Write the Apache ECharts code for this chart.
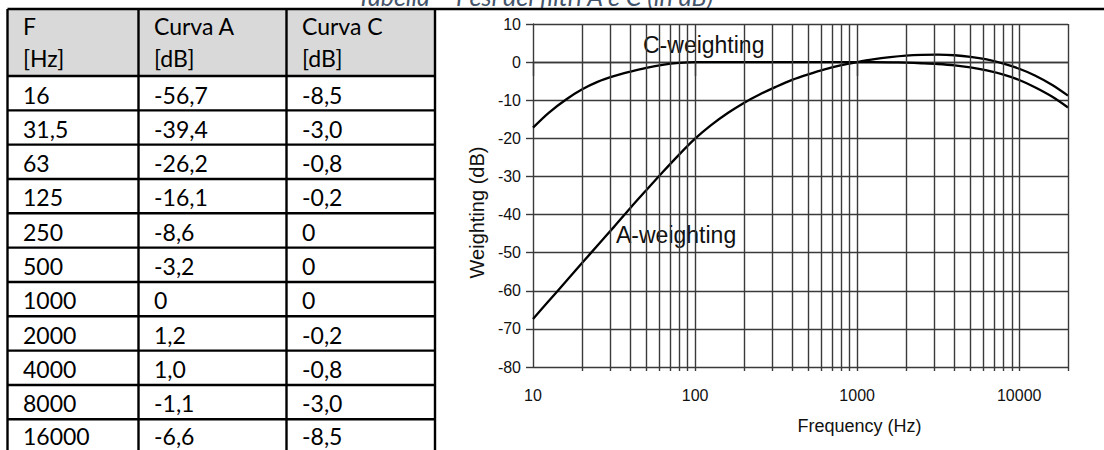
<!DOCTYPE html>
<html><head><meta charset="utf-8">
<script src="https://cdn.jsdelivr.net/npm/echarts@6/dist/echarts.min.js"></script>
<style>html,body{margin:0;padding:0;background:#fff}#c{width:1104px;height:450px}</style>
</head><body><div id="c"></div>
<script>
// ---- table data (as printed) ----
const tableHeader = [['F', '[Hz]'], ['Curva A', '[dB]'], ['Curva C', '[dB]']];
const tableFreqLabels = ['16', '31,5', '63', '125', '250', '500', '1000', '2000', '4000', '8000', '16000'];
const tableCurveA = ['-56,7', '-39,4', '-26,2', '-16,1', '-8,6', '-3,2', '0', '1,2', '1,0', '-1,1', '-6,6'];
const tableCurveC = ['-8,5', '-3,0', '-0,8', '-0,2', '0', '0', '0', '-0,2', '-0,8', '-3,0', '-8,5'];
const caption = 'Tabella – Pesi dei filtri A e C (in dB)';

// ---- chart data ----
const curveFreq = [10, 12.5, 16, 20, 25, 31.5, 40, 50, 63, 80, 100, 125, 160, 200, 250, 315, 400, 500, 630, 800,
  1000, 1250, 1600, 2000, 2500, 3150, 4000, 5000, 6300, 8000, 10000, 12500, 16000, 20000];
const curveA = [-67.4, -62.7, -57.5, -52.8, -48.1, -43.3, -38.2, -33.6, -28.9, -24.2, -20.1, -16.6, -13.3, -10.7, -8.5, -6.5, -4.6, -3.2, -1.9, -0.8,
  0, 0.7, 1.3, 1.7, 1.9, 1.95, 1.8, 1.4, 0.7, -0.4, -1.75, -3.5, -6.0, -8.8];
const curveC = [-17.2, -13.3, -9.8, -7.2, -5.2, -3.7, -2.5, -1.5, -0.7, -0.2, 0, 0, 0, 0, 0, 0, 0, 0, 0, 0,
  0, 0, -0.05, -0.15, -0.3, -0.5, -0.85, -1.4, -2.2, -3.3, -4.7, -6.6, -9.1, -11.9];
const majorFreqs = [10, 100, 1000, 10000];
const gridFreqs = [20, 30, 40, 50, 60, 70, 80, 90, 100, 200, 300, 400, 500, 600, 700, 800, 900, 1000,
  2000, 3000, 4000, 5000, 6000, 7000, 8000, 9000, 10000, 20000];
const yMin = -80, yMax = 10, yStep = 10;
const labelC = 'C-weighting', labelA = 'A-weighting';
const xName = 'Frequency (Hz)', yName = 'Weighting (dB)';

// ---- layout ----
const colX = [7.5, 138.5, 286.5, 435];
const tableTop = 9, headTop = 9, headBottom = 76, rowH = 34.33;
const tFont = '23px Lato';
const g = [];
g.push({ type: 'rect', shape: { x: colX[0], y: headTop, width: colX[3] - colX[0], height: headBottom - headTop }, style: { fill: '#d9d9d9' }, z: 1 });
tableHeader.forEach((h, i) => {
  g.push({ type: 'text', x: colX[i] + 15.5, y: headTop + 17, style: { text: h[0], font: tFont, fill: '#000', verticalAlign: 'middle' }, z: 3 });
  g.push({ type: 'text', x: colX[i] + 15.5, y: headTop + 49, style: { text: h[1], font: tFont, fill: '#000', verticalAlign: 'middle' }, z: 3 });
});
const cols = [tableFreqLabels, tableCurveA, tableCurveC];
tableFreqLabels.forEach((_, r) => {
  const top = headBottom + r * rowH;
  const dy = r === tableFreqLabels.length - 1 ? 16.5 : 18.5;
  cols.forEach((col, i) => {
    g.push({ type: 'text', x: colX[i] + 15.5, y: top + dy, style: { text: col[r], font: tFont, fill: '#000', verticalAlign: 'middle' }, z: 3 });
  });
  g.push({ type: 'line', shape: { x1: colX[0], y1: top, x2: colX[3], y2: top }, style: { stroke: '#000', lineWidth: 2.4 }, z: 4 });
});
colX.forEach(x => g.push({ type: 'line', shape: { x1: x, y1: tableTop, x2: x, y2: 452 }, style: { stroke: '#000', lineWidth: 2.4 }, z: 4 }));
g.push({ type: 'line', shape: { x1: colX[0], y1: tableTop, x2: 1104, y2: tableTop }, style: { stroke: '#000', lineWidth: 2.6 }, z: 4 });
g.push({ type: 'text', x: 357, y: -4, style: { text: caption, font: 'italic 25px Lato', fill: '#44546a', verticalAlign: 'middle' }, z: 3 });
g.push({ type: 'text', x: 643, y: 45, style: { text: labelC, font: '23px "Liberation Sans"', fill: '#111', verticalAlign: 'middle' }, z: 5 });
g.push({ type: 'text', x: 616, y: 235, style: { text: labelA, font: '23px "Liberation Sans"', fill: '#111', verticalAlign: 'middle' }, z: 5 });

const gridColor = '#3a3a3a';
const gw = 1.4;
const chart = echarts.init(document.getElementById('c'), null, { renderer: 'svg' });
chart.setOption({
  animation: false,
  backgroundColor: '#fff',
  textStyle: { fontFamily: 'Liberation Sans' },
  grid: { left: 533, right: 36, top: 24, bottom: 83, containLabel: false },
  xAxis: [{
    type: 'log', logBase: 10, min: 10, max: 20000,
    name: xName, nameLocation: 'middle', nameGap: 50,
    nameTextStyle: { fontSize: 18, color: '#111', padding: [0, 0, 0, 118] },
    axisLine: { show: true, lineStyle: { color: gridColor, width: gw } },
    axisTick: { show: true, length: 14, customValues: majorFreqs, lineStyle: { color: gridColor, width: gw } },
    axisLabel: { customValues: majorFreqs, fontSize: 16, color: '#111', margin: 20, formatter: v => String(v) },
    splitLine: { show: false }
  }, {
    type: 'log', logBase: 10, min: 10, max: 20000, position: 'bottom',
    axisLine: { show: false },
    axisTick: { show: true, length: 4, customValues: gridFreqs, lineStyle: { color: gridColor, width: gw } },
    axisLabel: { show: false },
    splitLine: { show: false }
  }],
  yAxis: {
    type: 'value', min: yMin, max: yMax, interval: yStep,
    name: yName, nameLocation: 'middle', nameGap: 46, nameRotate: 90,
    nameTextStyle: { fontSize: 20, color: '#111', padding: [0, 34, 0, 0] },
    axisLine: { show: true, lineStyle: { color: gridColor, width: gw } },
    axisTick: { show: true, length: 7, lineStyle: { color: gridColor, width: gw } },
    axisLabel: { fontSize: 16, color: '#111', margin: 12 },
    splitLine: { show: true, lineStyle: { color: gridColor, width: gw } }
  },
  series: [{
    type: 'line', name: labelA, data: curveFreq.map((f, i) => [f, curveA[i]]),
    smooth: 0.3, showSymbol: false, symbol: 'none', lineStyle: { color: '#000', width: 2.3 }, z: 4,
    markLine: {
      silent: true, symbol: 'none', label: { show: false },
      lineStyle: { color: gridColor, width: gw, type: 'solid' },
      data: gridFreqs.map(f => ({ xAxis: f }))
    }
  }, {
    type: 'line', name: labelC, data: curveFreq.map((f, i) => [f, curveC[i]]),
    smooth: 0.3, showSymbol: false, symbol: 'none', lineStyle: { color: '#000', width: 2.3 }, z: 4
  }],
  graphic: g
});
</script></body></html>
